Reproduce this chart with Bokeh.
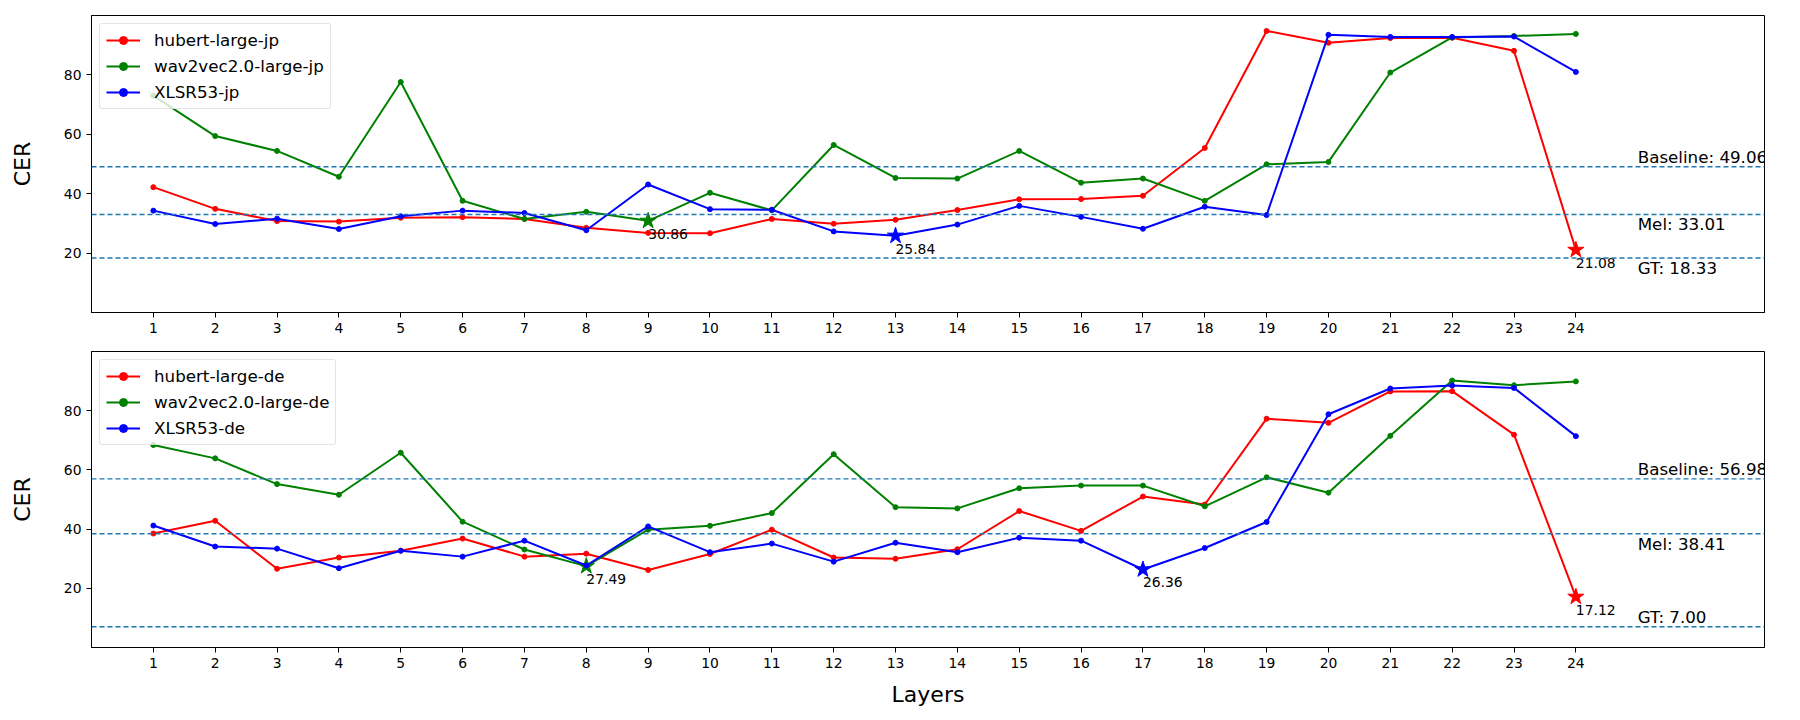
from bokeh.plotting import figure
from bokeh.models import Range1d, FixedTicker, Span, Label, ColumnDataSource
from bokeh.layouts import column
from bokeh.embed import file_html
from bokeh.resources import INLINE
from bokeh.core.properties import value

# ---------------- data ----------------
layers = list(range(1, 25))

hubert_jp = [42.2, 34.9, 30.8, 30.6, 31.9, 32.1, 31.5, 28.5, 26.8, 26.7, 31.5, 29.9,
             31.2, 34.5, 38.1, 38.2, 39.3, 55.4, 94.8, 90.8, 92.4, 92.5, 88.1, 21.08]
wav2vec_jp = [73.0, 59.4, 54.4, 45.7, 77.6, 37.6, 31.5, 33.9, 30.86, 40.3, 34.4, 56.4,
              45.3, 45.1, 54.4, 43.7, 45.1, 37.6, 49.9, 50.7, 80.8, 92.6, 93.1, 93.8]
xlsr_jp = [34.3, 29.8, 31.6, 28.1, 32.4, 34.3, 33.5, 27.7, 43.1, 34.8, 34.6, 27.3,
           25.84, 29.6, 35.9, 32.2, 28.2, 35.6, 32.8, 93.5, 92.8, 92.8, 92.9, 81.0]

hubert_de = [38.5, 42.8, 26.6, 30.4, 32.7, 36.8, 30.7, 31.7, 26.2, 31.6, 39.8, 30.4,
             30.0, 33.2, 46.1, 39.4, 51.0, 48.3, 77.3, 75.9, 86.5, 86.6, 71.9, 17.12]
wav2vec_de = [68.4, 63.9, 55.2, 51.6, 65.8, 42.5, 33.1, 27.49, 39.8, 41.1, 45.4, 65.3,
              47.4, 47.0, 53.8, 54.7, 54.7, 47.7, 57.5, 52.3, 71.5, 90.2, 88.6, 89.9]
xlsr_de = [41.2, 34.1, 33.4, 26.8, 32.7, 30.7, 36.1, 27.7, 40.9, 32.2, 35.1, 29.0,
           35.4, 32.2, 37.1, 36.1, 26.36, 33.6, 42.4, 78.8, 87.5, 88.5, 87.7, 71.4]

ref_names = ["Baseline", "Mel", "GT"]
ref_jp = [49.06, 33.01, 18.33]
ref_de = [56.98, 38.41, 7.00]

series_jp = [("hubert-large-jp", hubert_jp), ("wav2vec2.0-large-jp", wav2vec_jp), ("XLSR53-jp", xlsr_jp)]
series_de = [("hubert-large-de", hubert_de), ("wav2vec2.0-large-de", wav2vec_de), ("XLSR53-de", xlsr_de)]

y_ticks = [20, 40, 60, 80]

# ---------------- style ----------------
COLORS = ["#ff0000", "#008000", "#0000ff"]
REF_COLOR = "#1f77b4"
FONT = "DejaVu Sans"


def make_panel(series, refs, ref_anchor, frame_h, border_top, border_bottom, show_xlabel):
    p = figure(frame_width=1673, frame_height=frame_h,
               min_border_left=91, min_border_right=20,
               min_border_top=border_top, min_border_bottom=border_bottom,
               x_range=Range1d(0, 27.05), y_range=Range1d(0, 100),
               output_backend="svg", toolbar_location=None)
    p.background_fill_color = "white"
    p.border_fill_color = "white"
    p.xgrid.visible = False
    p.ygrid.visible = False
    p.outline_line_color = "black"
    p.outline_line_width = 1
    p.outline_line_alpha = 1

    for ax in (p.xaxis[0], p.yaxis[0]):
        ax.axis_line_color = "black"
        ax.axis_line_width = 1
        ax.major_tick_line_color = "black"
        ax.major_tick_line_width = 1
        ax.major_tick_out = 5
        ax.major_tick_in = 0
        ax.minor_tick_line_color = None
        ax.major_label_text_font = FONT
        ax.major_label_text_font_size = "13.9px"
        ax.major_label_text_color = "black"
        ax.major_label_standoff = 5
        ax.axis_label_text_font = FONT
        ax.axis_label_text_font_size = "22px"
        ax.axis_label_text_font_style = "normal"
        ax.axis_label_text_color = "black"

    p.xaxis.ticker = FixedTicker(ticks=layers)
    p.yaxis.ticker = FixedTicker(ticks=y_ticks)
    p.yaxis.axis_label = "CER"
    p.yaxis.axis_label_standoff = 26
    if show_xlabel:
        p.xaxis.axis_label = "Layers"
        p.xaxis.axis_label_standoff = 11

    # reference lines
    for v in refs:
        p.add_layout(Span(location=v, dimension="width", line_color=REF_COLOR,
                          line_width=1.4, line_dash="5 3"))

    # series
    for (name, vals), c in zip(series, COLORS):
        src = ColumnDataSource(dict(x=layers, y=vals))
        p.line("x", "y", source=src, line_color=c, line_width=2, legend_label=name)
        p.scatter("x", "y", source=src, marker="circle", size=5, fill_color=c,
                  line_color=c, legend_label=name)
        i = min(range(len(vals)), key=lambda k: vals[k])
        msrc = ColumnDataSource(dict(x=[layers[i]], y=[vals[i]], t=["%.2f" % vals[i]]))
        p.scatter("x", "y", source=msrc, marker="star", size=17, fill_color=c, line_color=c)
        p.text("x", "y", text="t", source=msrc, text_font=value(FONT),
               text_font_size="13.9px", text_color="black", text_align="left",
               text_baseline="top", x_offset=0, y_offset=8)

    # reference labels
    for name, v, anc in zip(ref_names, refs, ref_anchor):
        p.add_layout(Label(x=25, y=v, x_units="data", y_units="data",
                           text="%s: %.2f" % (name, v), text_font=FONT,
                           text_font_size="16.7px", text_color="black",
                           text_align="left", text_baseline=anc))

    lg = p.legend[0]
    lg.location = "top_left"
    lg.margin = 8
    lg.padding = 6
    lg.spacing = 6
    lg.glyph_width = 34
    lg.glyph_height = 20
    lg.label_standoff = 14
    lg.label_text_font = FONT
    lg.label_text_font_size = "16.7px"
    lg.label_text_color = "black"
    lg.border_line_color = "#cccccc"
    lg.border_line_width = 1
    lg.background_fill_color = "white"
    lg.background_fill_alpha = 0.8
    try:
        lg.border_radius = 3
    except Exception:
        pass
    return p


p1 = make_panel(series_jp, ref_jp, ["bottom", "top", "top"], 297, 15, 32, False)
p2 = make_panel(series_de, ref_de, ["bottom", "top", "bottom"], 296, 7, 58, True)

layout = column(p1, p2, spacing=0)
open("out.html", "w").write(file_html(layout, INLINE))
